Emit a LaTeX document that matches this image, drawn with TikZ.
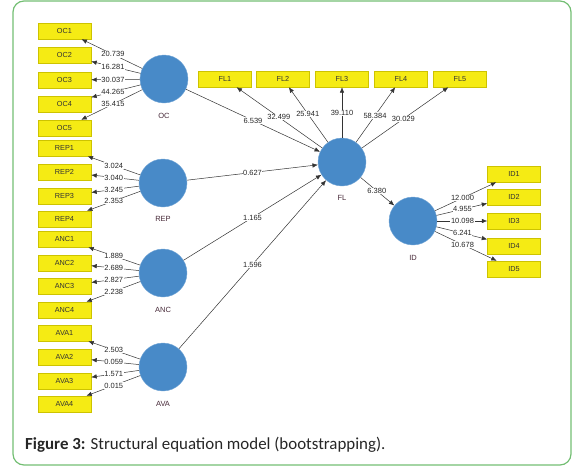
\documentclass[tikz,border=0pt]{standalone}
\usepackage{fontspec}
\setmainfont{Liberation Sans}
\newfontfamily\capfont{Carlito}
\usetikzlibrary{arrows.meta,calc}
\definecolor{boxyellow}{RGB}{245,235,20}
\definecolor{boxedge}{RGB}{205,195,0}
\definecolor{lvblue}{RGB}{72,138,200}
\definecolor{framegreen}{RGB}{115,190,115}
\definecolor{lvtext}{RGB}{70,40,55}
\tikzset{
  ind/.style={draw=boxedge, fill=boxyellow, minimum width=53pt, minimum height=16pt, inner sep=0pt, font=\fontsize{7.3}{8}\selectfont, text=black!80},
  lv/.style={circle, fill=lvblue, draw=lvblue!75!white, minimum size=48pt, inner sep=0pt},
  lvlab/.style={font=\fontsize{7.5}{9}\selectfont, text=lvtext},
  num/.style={fill=white, inner sep=0.6pt, font=\fontsize{7.5}{9}\selectfont, text=black!85},
  conn/.style={draw=black!80, line width=0.5pt, -{Latex[length=5.5pt,width=4.5pt]}},
}
\begin{document}
\begin{tikzpicture}[x=1pt,y=-1pt]
\useasboundingbox (0,0) rectangle (587,472);
\draw[framegreen, line width=1.2pt, rounded corners=11pt] (13,1) rectangle (571,465);

% latent variables
\node[lv] (oc) at (164,79) {};
\node[lv] (rep) at (163,183) {};
\node[lv] (anc) at (163,273) {};
\node[lv] (ava) at (163,367) {};
\node[lv] (fl) at (342,162) {};
\node[lv] (id) at (413,221) {};

\node[lvlab] (ocl) at ([yshift=-37pt]oc.center) {OC};
\node[lvlab] (repl) at ([yshift=-36pt]rep.center) {REP};
\node[lvlab] (ancl) at ([yshift=-37pt]anc.center) {ANC};
\node[lvlab] (aval) at ([yshift=-37pt]ava.center) {AVA};
\node[lvlab] (fll) at ([yshift=-36pt]fl.center) {FL};
\node[lvlab] (idl) at ([yshift=-37pt]id.center) {ID};

% OC indicators
\foreach \i/\y/\v in {1/31/20.739, 2/55/16.281, 3/80/30.037, 4/104/44.265, 5/128/35.415} {
  \node[ind] (oc\i) at (64.5,\y) {OC\i};
  \draw[conn] (oc) -- (oc\i);
  \node[num] (ocn\i) at ($(oc)!0.513!(oc\i)$) {\v};
}
% REP indicators
\foreach \i/\y/\v in {1/148/3.024, 2/172/3.040, 3/196/3.245, 4/219/2.353} {
  \node[ind] (rep\i) at (64.5,\y) {REP\i};
  \draw[conn] (rep) -- (rep\i);
  \node[num] (repn\i) at ($(rep)!0.5!(rep\i)$) {\v};
}
% ANC indicators
\foreach \i/\y/\v in {1/239/1.889, 2/263/2.689, 3/286/2.827, 4/310/2.238} {
  \node[ind] (anc\i) at (64.5,\y) {ANC\i};
  \draw[conn] (anc) -- (anc\i);
  \node[num] (ancn\i) at ($(anc)!0.5!(anc\i)$) {\v};
}
% AVA indicators
\foreach \i/\y/\v in {1/333/2.503, 2/357/0.059, 3/381/1.571, 4/404/0.015} {
  \node[ind] (ava\i) at (64.5,\y) {AVA\i};
  \draw[conn] (ava) -- (ava\i);
  \node[num] (avan\i) at ($(ava)!0.5!(ava\i)$) {\v};
}
% FL indicators
\foreach \i/\x/\t/\v in {1/225/0.54/32.499, 2/283/0.58/25.941, 3/342/0.59/39.110, 4/401/0.56/58.384, 5/460/0.52/30.029} {
  \node[ind] (fl\i) at (\x,79) {FL\i};
  \draw[conn] (fl) -- (fl\i);
  \node[num] (fln\i) at ($(fl)!\t!(fl\i)$) {\v};
}
% ID indicators
\foreach \i/\y/\v in {1/174/12.000, 2/197/4.955, 3/221/10.098, 4/246/6.241, 5/269/10.678} {
  \node[ind] (id\i) at (514,\y) {ID\i};
  \draw[conn] (id) -- (id\i);
  \node[num] (idn\i) at ($(id)!0.49!(id\i)$) {\v};
}

% structural paths
\draw[conn] (oc) -- (fl);
\node[num] (p1) at ($(oc)!0.5!(fl)$) {6.539};
\draw[conn] (rep) -- (fl);
\node[num] (p2) at ($(rep)!0.5!(fl)$) {0.627};
\draw[conn] (anc) -- (fl);
\node[num] (p3) at ($(anc)!0.5!(fl)$) {1.165};
\draw[conn] (ava) -- (fl);
\node[num] (p4) at ($(ava)!0.5!(fl)$) {1.596};
\draw[conn] (fl) -- (id);
\node[num] (p5) at ($(fl)!0.49!(id)$) {6.380};

% caption
\node[anchor=west, inner sep=0pt, font=\capfont\fontsize{16.9}{19}\selectfont, text=black!85] (cap) at (25,445) {\textbf{Figure 3:} Structural equation model (bootstrapping).};
\end{tikzpicture}
\end{document}
